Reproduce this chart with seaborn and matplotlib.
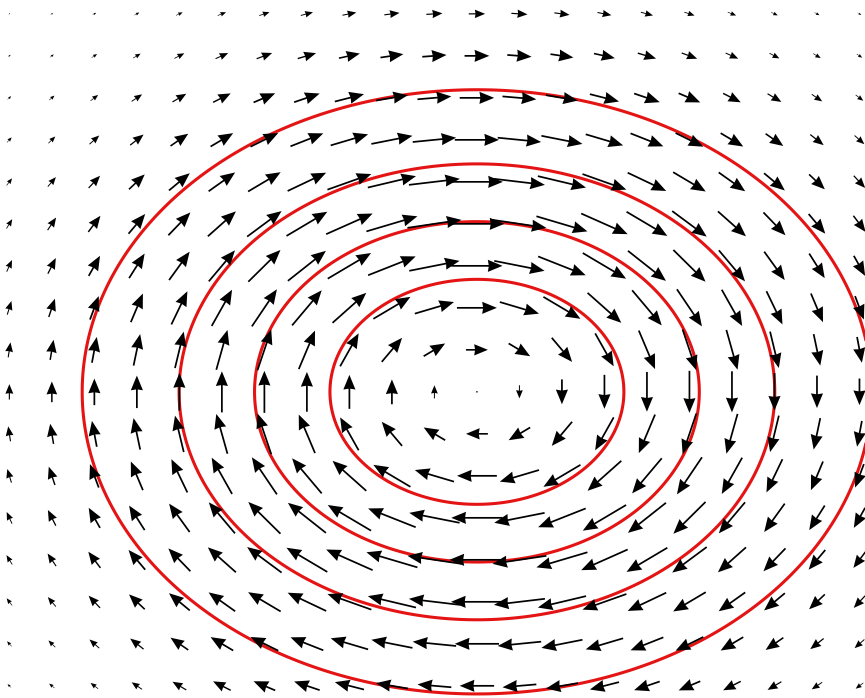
# Campo vectorial de un vórtice elíptico con curvas de nivel de la función de corriente

import seaborn as sns
import matplotlib.pyplot as plt
import numpy as np

sns.set_theme(style="white")

# Posiciones de la malla (columnas y filas de flechas)
x_cols = [-11, -10, -9, -8, -7, -6, -5, -4, -3, -2, -1, 0, 1, 2, 3, 4, 5, 6, 7, 8, 9]
y_rows = [-7, -6, -5, -4, -3, -2, -1, 0, 1, 2, 3, 4, 5, 6, 7, 8, 9]

sigma_x = 7.32
sigma_y = 5.67
niveles = [0.2, 0.4, 0.6, 0.8]

X, Y = np.meshgrid(x_cols, y_rows)
psi = np.exp(-(X**2 / sigma_x**2 + Y**2 / sigma_y**2))
u = 2 * Y / sigma_y**2 * psi
v = -2 * X / sigma_x**2 * psi

# Malla fina solo para dibujar las curvas de nivel
xf = np.linspace(-11.5, 9.5, 600)
yf = np.linspace(-7.5, 9.5, 500)
XF, YF = np.meshgrid(xf, yf)
psi_f = np.exp(-(XF**2 / sigma_x**2 + YF**2 / sigma_y**2))

fig = plt.figure(figsize=(8.65, 6.98), dpi=100)
ax = fig.add_axes([0, 0, 1, 1])

ax.quiver(X, Y, u, v, pivot="mid", angles="xy", scale_units="xy",
          scale=0.117, color="black", width=0.002,
          headwidth=7, headlength=8.5, headaxislength=8,
          minshaft=1.6, zorder=3)
ax.contour(XF, YF, psi_f, levels=niveles, colors="#e41414",
           linewidths=2.2, zorder=2)

ax.set_xlim(-11.22, 9.13)
ax.set_ylim(-7.29, 9.33)
ax.axis("off")

fig.savefig("out.png", dpi=100)
